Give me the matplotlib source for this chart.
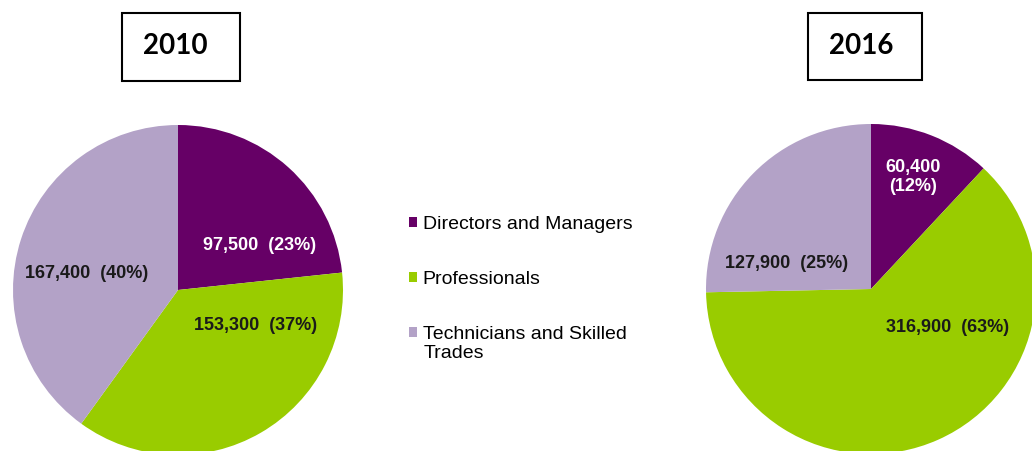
import matplotlib
matplotlib.use("Agg")
import matplotlib.pyplot as plt
from matplotlib.patches import Patch, Rectangle

categories = ["Directors and Managers", "Professionals", "Technicians and Skilled"]
extra_line = "Trades"
values_2010 = [97500, 153300, 167400]
values_2016 = [60400, 316900, 127900]
years = ["2010", "2016"]
colors = ["#660066", "#99CC00", "#B3A2C7"]
label_colors = ["white", "#1a1a1a", "#1a1a1a"]

# layout in pixel units measured from the top-left (figure is 1032x451)
W, H = 1032, 451
centers = [(178, 290), (871, 289)]
radius = 165
label_offsets = [
    [(82, -45), (78, 35), (-91, -17)],
    [(42, -112), (77, 39), (-84, -26)],
]
boxes = [(122, 13, 118, 68), (808, 13, 114, 67)]
title_pos = [(175, 46), (861, 46)]


def fy(y):
    return H - y


fig = plt.figure(figsize=(W / 100, H / 100), dpi=100)
ax = fig.add_axes([0, 0, 1, 1])

for i, vals in enumerate([values_2010, values_2016]):
    cx, cy = centers[i]
    ax.pie(vals, colors=colors, startangle=90, counterclock=False,
           center=(cx, fy(cy)), radius=radius, frame=True,
           wedgeprops=dict(linewidth=0))
    total = sum(vals)
    for j, v in enumerate(vals):
        pct = round(v / total * 100)
        if i == 1 and j == 0:
            txt = f"{v:,}\n({pct}%)"
        else:
            txt = f"{v:,}  ({pct}%)"
        dx, dy = label_offsets[i][j]
        ax.text(cx + dx, fy(cy + dy), txt, ha="center", va="center",
                fontsize=13, fontweight="bold", color=label_colors[j],
                family="Liberation Sans", linespacing=1.15)
    bx, by, bw, bh = boxes[i]
    ax.add_patch(Rectangle((bx, fy(by + bh)), bw, bh, fill=False,
                           edgecolor="black", linewidth=1.5))
    ax.text(title_pos[i][0], fy(title_pos[i][1]), years[i], ha="center", va="center",
            fontsize=20, fontweight="bold", family="Lato")

ax.set_xlim(0, W)
ax.set_ylim(0, H)
ax.set_aspect("equal")
ax.set_axis_off()

handles = [Patch(facecolor=c, edgecolor="none") for c in colors]
leg = ax.legend(handles, categories, loc="upper left",
                bbox_to_anchor=(409 / W, 1 - 216 / H), frameon=False,
                prop={"family": "Liberation Sans", "size": 14},
                handlelength=0.4, handleheight=0.4, handletextpad=0.3,
                labelspacing=1.95, borderpad=0, borderaxespad=0)
ax.text(424, fy(354), extra_line, ha="left", va="center",
        fontsize=14, family="Liberation Sans")

fig.savefig("out.png", dpi=100)
